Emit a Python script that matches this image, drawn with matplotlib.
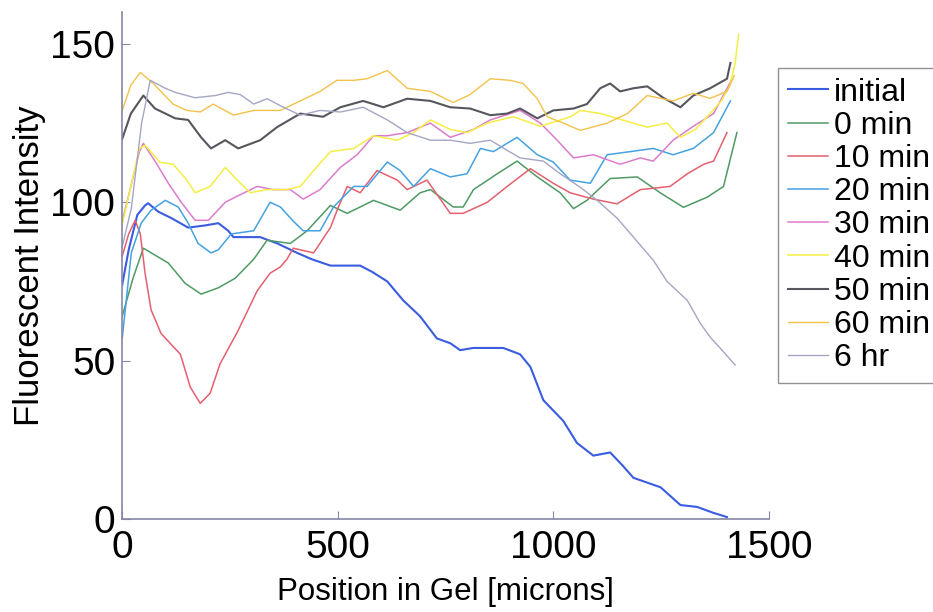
import matplotlib
matplotlib.use("Agg")
import matplotlib.pyplot as plt

plt.rcParams['font.family'] = ['Liberation Sans', 'DejaVu Sans']

# fluorescence profiles (position in microns, intensity)
initial_x = [0, 15, 35, 53, 60, 84, 114, 153, 193, 223, 246, 258, 320, 360, 406, 440, 483, 520, 552, 580,
             615, 652, 691, 730, 761, 784, 814, 850, 884, 923, 947, 977, 1023, 1055, 1093, 1132, 1160,
             1186, 1249, 1295, 1334, 1370, 1403]
initial_y = [74, 85, 96, 99, 99.7, 97, 95, 92, 92.7, 93.4, 91, 89, 89, 87, 84, 82, 80, 80, 80, 78,
             75, 69, 64, 57, 55.5, 53.3, 54, 54, 54, 52, 48, 37.5, 31, 24, 20, 21, 17,
             13, 10, 4.4, 3.8, 2, 0.6]

min0_x = [0, 25, 49, 80, 107, 146, 183, 223, 262, 305, 336, 390, 429, 483, 522, 583, 645, 691, 715, 768,
          791, 815, 870, 916, 963, 1016, 1047, 1078, 1132, 1195, 1248, 1302, 1357, 1395, 1426]
min0_y = [64, 76, 85.5, 83, 80.8, 74.4, 71, 73, 76, 82, 88, 87, 91, 99, 96.5, 100.6, 97.5, 103, 104, 98.5,
          98.5, 104, 109, 113, 108, 103, 98, 100.6, 107.5, 108, 103, 98.4, 101.6, 105, 122]

min10_x = [0, 15, 30, 42, 53, 67, 90, 111, 135, 158, 181, 204, 227, 267, 313, 343, 367, 382, 397, 444,
           483, 500, 522, 552, 591, 638, 661, 707, 761, 791, 847, 893, 947, 1000, 1039, 1093, 1148,
           1202, 1271, 1311, 1349, 1372, 1403]
min10_y = [83, 90, 94.3, 90, 77.6, 66, 58.6, 55.5, 52, 41.6, 36.5, 39.7, 49, 59, 72, 77.6, 79.6, 82, 85.5, 84,
           92, 98, 105, 103, 110, 107, 104, 107, 96.5, 96.5, 100, 105, 110.6, 106, 103, 101, 99.5,
           104, 105, 109, 112, 113, 122]

min20_x = [0, 21, 44, 67, 100, 130, 153, 176, 206, 223, 253, 305, 343, 367, 397, 420, 459, 490, 537, 568,
           615, 645, 676, 715, 761, 800, 831, 861, 916, 963, 1000, 1039, 1086, 1125, 1179, 1232, 1278,
           1325, 1372, 1411]
min20_y = [57, 84, 93.4, 97.5, 100.6, 98.5, 93.4, 87, 84, 85, 90, 91, 100, 98.5, 94, 91, 91, 98.5, 105, 105,
           112.7, 110, 105, 110.6, 108, 109, 117, 116, 120.5, 115, 112.7, 107, 106, 115, 116, 117, 115,
           117, 122, 132]

min30_x = [0, 20, 40, 49, 76, 107, 137, 169, 200, 239, 262, 313, 350, 390, 420, 459, 506, 545, 583, 615,
           661, 715, 761, 815, 854, 923, 970, 1009, 1047, 1093, 1155, 1202, 1232, 1278, 1325, 1372, 1413]
min30_y = [94, 105, 116, 118.6, 113, 106, 100, 94.3, 94.3, 100, 101.6, 105, 104, 104, 101, 104, 111, 115, 121, 121,
           122, 125, 120.5, 123, 126, 129, 125, 119.6, 114, 115, 112, 114, 113, 119.6, 124, 128, 138.5]

min40_x = [0, 20, 40, 53, 88, 118, 150, 169, 204, 239, 267, 297, 336, 382, 413, 444, 483, 537, 583, 638,
           676, 715, 761, 800, 847, 907, 970, 1040, 1063, 1110, 1160, 1218, 1264, 1295, 1330, 1357,
           1390, 1410, 1422, 1430]
min40_y = [93, 105, 117, 118, 112.6, 112, 107, 103, 105, 111, 107, 103, 104, 104, 105, 110, 116, 117, 121, 119.6,
           122, 126, 123, 122, 125, 127, 124, 127, 129, 128, 126, 123.7, 125, 120.5, 123, 127,
           132, 137, 144, 153]

min50_x = [0, 20, 49, 76, 123, 153, 183, 206, 239, 269, 320, 359, 413, 466, 506, 559, 606, 661, 715, 761,
           807, 854, 893, 923, 963, 1000, 1047, 1078, 1109, 1132, 1155, 1186, 1218, 1255, 1295, 1325,
           1364, 1403, 1411]
min50_y = [120, 128, 133.7, 129.6, 126.5, 126, 120.5, 117, 119.6, 117, 119.6, 123.7, 128, 127, 130, 132, 130, 132.7, 132, 130,
           129.6, 127.5, 128, 129.6, 126.5, 129, 129.6, 131, 136, 137.5, 135, 136, 136.6, 133, 130, 133.7,
           136, 139, 144]

min60_x = [0, 20, 42, 72, 118, 150, 181, 211, 258, 305, 367, 413, 459, 498, 537, 568, 615, 661, 715, 768,
           807, 854, 900, 930, 963, 986, 1023, 1063, 1125, 1172, 1218, 1278, 1325, 1364, 1403, 1420]
min60_y = [129, 137, 141, 137.5, 131, 129, 128.5, 131, 127.5, 129, 129, 132, 135, 138.5, 138.5, 139, 141.6, 136, 135, 131.5,
           134, 139, 138.5, 137.5, 132.7, 127, 125, 122.7, 125, 128, 133.7, 132, 134.4, 132.8, 135, 140]

hr6_x = [0, 21, 45, 65, 100, 123, 169, 216, 246, 274, 305, 336, 374, 413, 459, 506, 559, 615, 661, 715,
         761, 807, 854, 893, 923, 977, 1016, 1063, 1102, 1148, 1186, 1232, 1264, 1311, 1341, 1364,
         1387, 1422]
hr6_y = [86, 98, 125, 138.5, 136, 134.7, 133, 133.7, 134.7, 134, 131, 132.7, 130, 127.5, 129, 128.5, 130, 126, 122, 119.6,
         119.6, 118.6, 119.6, 116.4, 114, 113, 109, 104.7, 100.6, 95, 89, 81.7, 75, 69, 61.8, 57.4,
         54, 48.6]

labels = ['initial', '0 min', '10 min', '20 min', '30 min', '40 min', '50 min', '60 min', '6 hr']
colors = ['#3a5ce0', '#4f9a63', '#e4606e', '#45a2e0', '#dc7ccc', '#f4ee45', '#56565f', '#f2c24a', '#a4a6c4']
widths = [1.5, 1.1, 1.1, 1.1, 1.1, 1.1, 1.5, 1.0, 1.0]

xs = [initial_x, min0_x, min10_x, min20_x, min30_x, min40_x, min50_x, min60_x, hr6_x]
ys = [initial_y, min0_y, min10_y, min20_y, min30_y, min40_y, min50_y, min60_y, hr6_y]

fig = plt.figure(figsize=(9.33, 6.12), dpi=100)
ax = fig.add_axes([0.131, 0.152, 0.693, 0.828])

for x, y, lab, c, w in zip(xs, ys, labels, colors, widths):
    ax.plot(x, y, color=c, lw=w, label=lab)

ax.set_xlim(0, 1500)
ax.set_ylim(0, 160)
ax.set_xticks([0, 500, 1000, 1500])
ax.set_yticks([0, 50, 100, 150])

spine_col = '#8686a6'
for side in ['top', 'right']:
    ax.spines[side].set_visible(False)
for side in ['left', 'bottom']:
    ax.spines[side].set_color(spine_col)
    ax.spines[side].set_linewidth(1.2)
ax.tick_params(direction='in', length=6, color=spine_col, labelsize=28)
ax.tick_params(axis='x', pad=8)
ax.tick_params(axis='y', pad=5)

ax.set_xlabel('Position in Gel [microns]', fontsize=22.5, labelpad=8)
ax.set_ylabel('Fluorescent Intensity', fontsize=25, labelpad=3)

leg = ax.legend(loc='upper left', bbox_to_anchor=(778 / 933, 1 - 68 / 612),
                bbox_transform=fig.transFigure, fontsize=23, frameon=True, fancybox=False,
                borderaxespad=0, borderpad=0.3, handlelength=1.25, handletextpad=0.2,
                labelspacing=0.1)
leg.get_frame().set_edgecolor('#777777')
leg.get_frame().set_linewidth(1.0)

fig.savefig('out.png', dpi=100)
